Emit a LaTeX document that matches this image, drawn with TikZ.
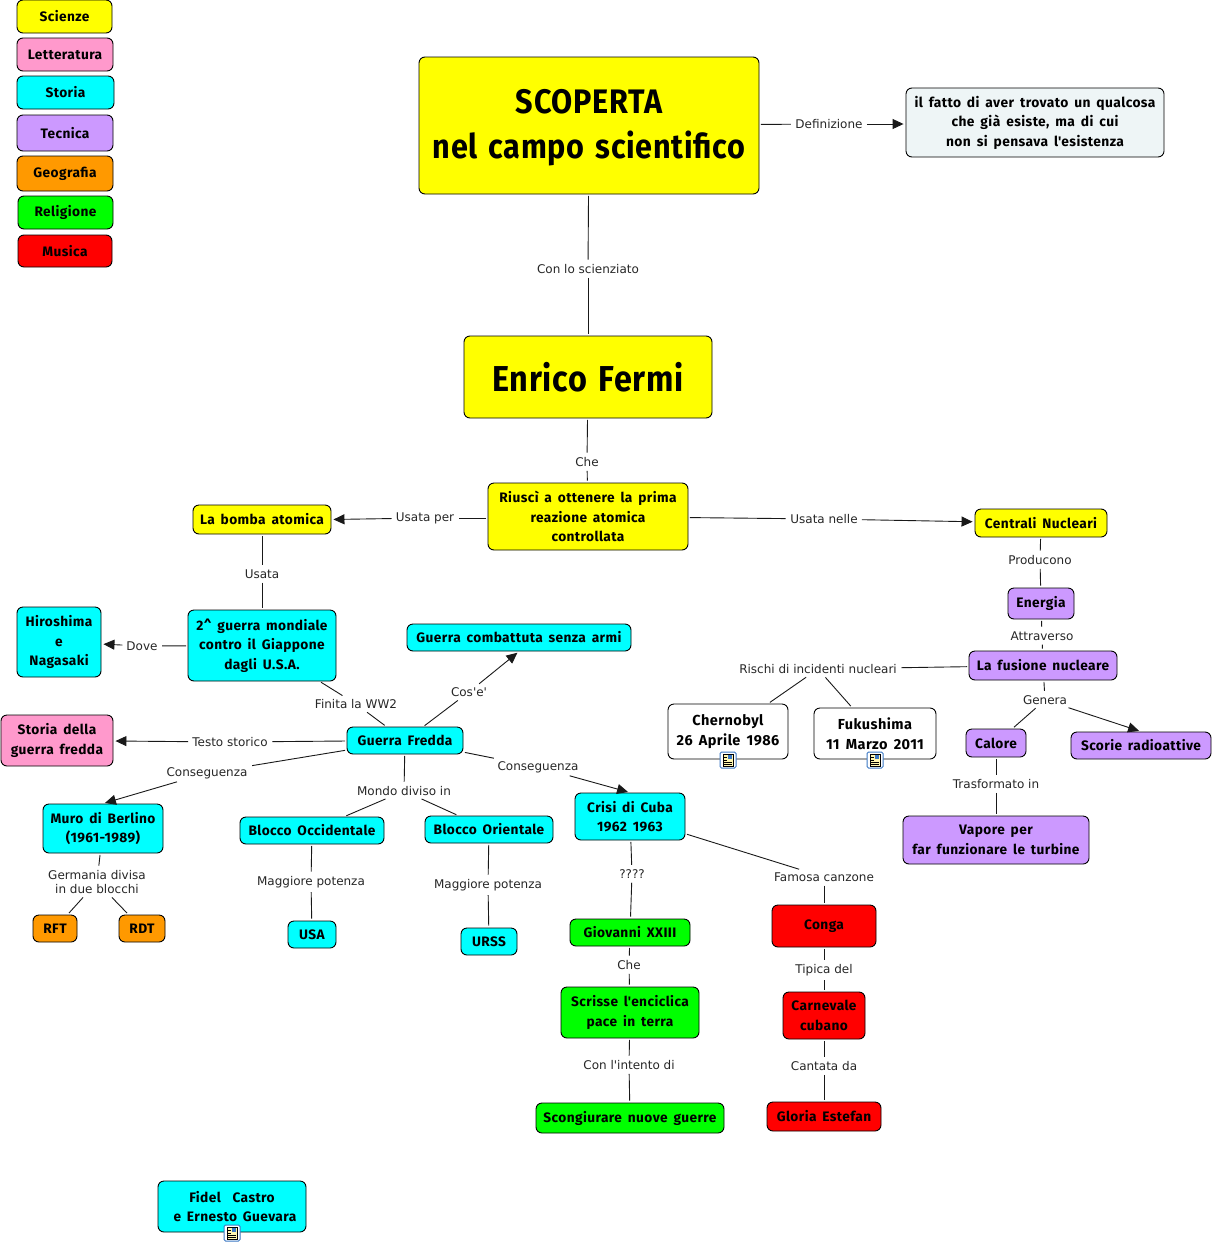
\documentclass[tikz,border=0pt]{standalone}
\usepackage{fontspec}
\usetikzlibrary{arrows.meta}
\newfontfamily\boxfont[LetterSpace=3,WordSpace=1.6]{Fira Sans}[BoldFont={Fira Sans Bold}]
\newfontfamily\titlefont[FakeStretch=0.9,LetterSpace=2,WordSpace=1.4]{Fira Sans}[BoldFont={Fira Sans Bold}]
\newfontfamily\lblfont{DejaVu Sans}
\definecolor{cyel}{HTML}{FFFF00}
\definecolor{cpink}{HTML}{FF99CC}
\definecolor{ccyan}{HTML}{00FFFF}
\definecolor{cpurp}{HTML}{CC99FF}
\definecolor{corng}{HTML}{FF9900}
\definecolor{cgrn}{HTML}{00FF00}
\definecolor{cred}{HTML}{FF0000}
\definecolor{cpale}{HTML}{EEF5F6}
\definecolor{iconblue}{HTML}{3B78C4}
\definecolor{iconfill}{HTML}{FFF6B0}
\newcommand{\bx}[8][]{% opts, name, x0,y0,x1,y1, fill, text
  \node[mapbox,fill=#7,minimum width={#5pt-#3pt},minimum height={#6pt-#4pt},#1] (#2) at ({(#3+#5)/2},{(#4+#6)/2}) {#8};}
\tikzset{
  x=1pt,y=-1pt,
  mapbox/.style={draw=black,line width=0.9pt,rounded corners=6pt,align=center,inner sep=0pt,
    font=\boxfont\bfseries\fontsize{13.7}{19.5}\selectfont},
  whitebox/.style={font=\boxfont\bfseries\fontsize{14.5}{19.5}\selectfont},
  lbl/.style={font=\lblfont\fontsize{12}{14}\selectfont,inner sep=2.5pt,align=center,text=black!85},
  conn/.style={draw=black!90,line width=0.9pt,shorten <=1.5pt,shorten >=2pt},
  arr/.style={conn,-{Triangle[length=11pt,width=10pt]}},
  noteicon/.pic={
    \draw[iconblue,line width=1pt,fill=white,rounded corners=1.5pt] (-8,-8) rectangle (8,8);
    \draw[black,line width=0.6pt,fill=iconfill] (-5,-6) rectangle (5,6);
    \fill[iconblue] (0,-5) rectangle (4,-1);
    \foreach \yy in {-3,0,2,4}{\draw[black,line width=0.6pt] (-4,\yy) -- (\ifnum\yy<1 -1\else 4\fi,\yy);}
  }
}
\begin{document}
\begin{tikzpicture}
\useasboundingbox (0,0) rectangle (1212,1245);
% legend
\bx{leg1}{17}{0}{112}{33}{cyel}{Scienze}
\bx{leg2}{17}{38}{113}{71}{cpink}{Letteratura}
\bx{leg3}{17}{76}{114}{109}{ccyan}{Storia}
\bx{leg4}{17}{115}{113}{151}{cpurp}{Tecnica}
\bx{leg5}{17}{156}{113}{191}{corng}{Geografia}
\bx{leg6}{18}{196}{113}{229}{cgrn}{Religione}
\bx{leg7}{18}{235}{112}{267}{cred}{Musica}
% main
\bx[font=\titlefont\bfseries\fontsize{34}{45}\selectfont]{scoperta}{419}{57}{759}{194}{cyel}{\rule{0pt}{28pt}SCOPERTA\\nel campo scientifico}
\bx[font=\boxfont\bfseries\fontsize{13.8}{19.5}\selectfont]{defn}{906}{88}{1164}{157}{cpale}{il fatto di aver trovato un qualcosa\\che già esiste, ma di cui\\non si pensava l\textquotesingle esistenza}
\bx[font=\titlefont\bfseries\fontsize{36}{44}\selectfont]{fermi}{464}{336}{712}{418}{cyel}{Enrico Fermi}
\bx{riusci}{488}{483}{688}{550}{cyel}{Riuscì a ottenere la prima\\reazione atomica\\controllata}
\bx{bomba}{193}{505}{331}{534}{cyel}{La bomba atomica}
\bx{centrali}{975}{509}{1107}{537}{cyel}{Centrali Nucleari}
\bx{gmondiale}{188}{610}{336}{681}{ccyan}{2\^{}\ guerra mondiale\\contro il Giappone\\dagli U.S.A.}
\bx{hiro}{17}{607}{101}{677}{ccyan}{Hiroshima\\e\\Nagasaki}
\bx{gcomb}{407}{624}{631}{651}{ccyan}{Guerra combattuta senza armi}
\bx{energia}{1008}{588}{1074}{619}{cpurp}{Energia}
\bx{fusione}{969}{651}{1117}{680}{cpurp}{La fusione nucleare}
\bx[whitebox]{chern}{668}{704}{788}{759}{white}{Chernobyl\\26 Aprile 1986}
\bx[whitebox]{fuku}{814}{708}{936}{759}{white}{Fukushima\\11 Marzo 2011}
\bx{calore}{966}{729}{1026}{757}{cpurp}{Calore}
\bx{scorie}{1071}{732}{1211}{759}{cpurp}{Scorie radioattive}
\bx{gfredda}{347}{727}{463}{754}{ccyan}{Guerra Fredda}
\bx{sgf}{1}{715}{113}{766}{cpink}{Storia della\\guerra fredda}
\bx{muro}{43}{804}{163}{853}{ccyan}{Muro di Berlino\\(1961-1989)}
\bx{occ}{240}{817}{384}{844}{ccyan}{Blocco Occidentale}
\bx{ori}{425}{816}{553}{843}{ccyan}{Blocco Orientale}
\bx{crisi}{575}{793}{685}{840}{ccyan}{Crisi di Cuba\\1962 1963}
\bx{vapore}{903}{816}{1089}{864}{cpurp}{Vapore per\\far funzionare le turbine}
\bx{rft}{33}{915}{77}{942}{corng}{RFT}
\bx{rdt}{119}{915}{165}{942}{corng}{RDT}
\bx{usa}{288}{921}{336}{948}{ccyan}{USA}
\bx{urss}{461}{928}{517}{955}{ccyan}{URSS}
\bx{giov}{570}{919}{690}{946}{cgrn}{Giovanni XXIII}
\bx{conga}{772}{905}{876}{947}{cred}{Conga}
\bx{scrisse}{561}{987}{699}{1038}{cgrn}{Scrisse l\textquotesingle enciclica\\pace in terra}
\bx{carn}{783}{992}{865}{1039}{cred}{Carnevale\\cubano}
\bx{scong}{536}{1103}{724}{1133}{cgrn}{Scongiurare nuove guerre}
\bx{gloria}{767}{1102}{881}{1131}{cred}{Gloria Estefan}
\bx{fidel}{158}{1181}{306}{1232}{ccyan}{Fidel\ \ Castro\\\ e Ernesto Guevara}
% note icons
\pic at (728,760) {noteicon};
\pic at (875,760) {noteicon};
\pic at (232,1233) {noteicon};
% labels
\node[lbl] (l1) at (829,124) {Definizione};
\node[lbl] (l2) at (588,269) {Con lo scienziato};
\node[lbl] (l3) at (587,462) {Che};
\node[lbl] (l4) at (425,518) {Usata per};
\node[lbl] (l5) at (824,519) {Usata nelle};
\node[lbl] (l6) at (262,574) {Usata};
\node[lbl] (l7) at (142,646) {Dove};
\node[lbl] (l8) at (356,704) {Finita la WW2};
\node[lbl] (l9) at (469,692) {Cos\textquotesingle e\textquotesingle};
\node[lbl] (l10) at (230,742) {Testo storico};
\node[lbl] (l11) at (207,773) {Conseguenza};
\node[lbl] (l12) at (404,791) {Mondo diviso in};
\node[lbl] (l13) at (538,767) {Conseguenza};
\node[lbl] (l14) at (97,882) {Germania divisa\\in due blocchi};
\node[lbl] (l15) at (311,882) {Maggiore potenza};
\node[lbl] (l16) at (488,885) {Maggiore potenza};
\node[lbl] (l17) at (632,874) {????};
\node[lbl] (l18) at (824,877) {Famosa canzone};
\node[lbl] (l19) at (629,965) {Che};
\node[lbl] (l20) at (629,1065) {Con l\textquotesingle intento di};
\node[lbl] (l21) at (824,970) {Tipica del};
\node[lbl] (l22) at (824,1066) {Cantata da};
\node[lbl] (l23) at (1040,560) {Producono};
\node[lbl] (l24) at (1042,636) {Attraverso};
\node[lbl] (l25) at (818,669) {Rischi di incidenti nucleari};
\node[lbl] (l26) at (1045,700) {Genera};
\node[lbl] (l27) at (996,784) {Trasformato in};
% connectors
\draw[conn] (scoperta) -- (l1); \draw[arr] (l1) -- (defn.west |- l1);
\draw[conn] (scoperta) -- (l2); \draw[conn] (l2) -- (fermi);
\draw[conn] (fermi) -- (l3); \draw[conn] (l3) -- (riusci);
\draw[conn] (riusci.west |- l4) -- (l4); \draw[arr] (l4) -- (bomba.east);
\draw[conn] (riusci) -- (l5); \draw[arr] (l5) -- (centrali);
\draw[conn] (bomba) -- (l6); \draw[conn] (l6) -- (gmondiale);
\draw[conn] (gmondiale) -- (l7); \draw[arr] (l7) -- (hiro);
\draw[conn] (gmondiale) -- (l8); \draw[conn] (l8) -- (gfredda);
\draw[conn] (gfredda) -- (l9); \draw[arr] (l9) -- (gcomb.south);
\draw[conn] (gfredda) -- (l10); \draw[arr] (l10) -- (sgf);
\draw[conn] (gfredda) -- (l11); \draw[arr] (l11) -- (muro.north);
\draw[conn] (gfredda) -- (l12); \draw[conn] (l12) -- (occ); \draw[conn] (l12) -- (ori);
\draw[conn] (gfredda) -- (l13); \draw[arr] (l13) -- (crisi.north);
\draw[conn] (muro) -- (l14); \draw[conn] (l14) -- (rft); \draw[conn] (l14) -- (rdt);
\draw[conn] (occ) -- (l15); \draw[conn] (l15) -- (usa);
\draw[conn] (ori) -- (l16); \draw[conn] (l16) -- (urss);
\draw[conn] (crisi) -- (l17); \draw[conn] (l17) -- (giov);
\draw[conn] (crisi) -- (l18); \draw[conn] (l18) -- (conga);
\draw[conn] (giov) -- (l19); \draw[conn] (l19) -- (scrisse);
\draw[conn] (scrisse) -- (l20); \draw[conn] (l20) -- (scong);
\draw[conn] (conga) -- (l21); \draw[conn] (l21) -- (carn);
\draw[conn] (carn) -- (l22); \draw[conn] (l22) -- (gloria);
\draw[conn] (centrali) -- (l23); \draw[conn] (l23) -- (energia);
\draw[conn] (energia) -- (l24); \draw[conn] (l24) -- (fusione);
\draw[conn] (fusione) -- (l25); \draw[conn] (l25) -- (chern); \draw[conn] (l25) -- (fuku);
\draw[conn] (fusione) -- (l26); \draw[conn] (l26) -- (calore); \draw[arr] (l26) -- (scorie.north);
\draw[conn] (calore) -- (l27); \draw[conn] (l27) -- (vapore);
\end{tikzpicture}
\end{document}
